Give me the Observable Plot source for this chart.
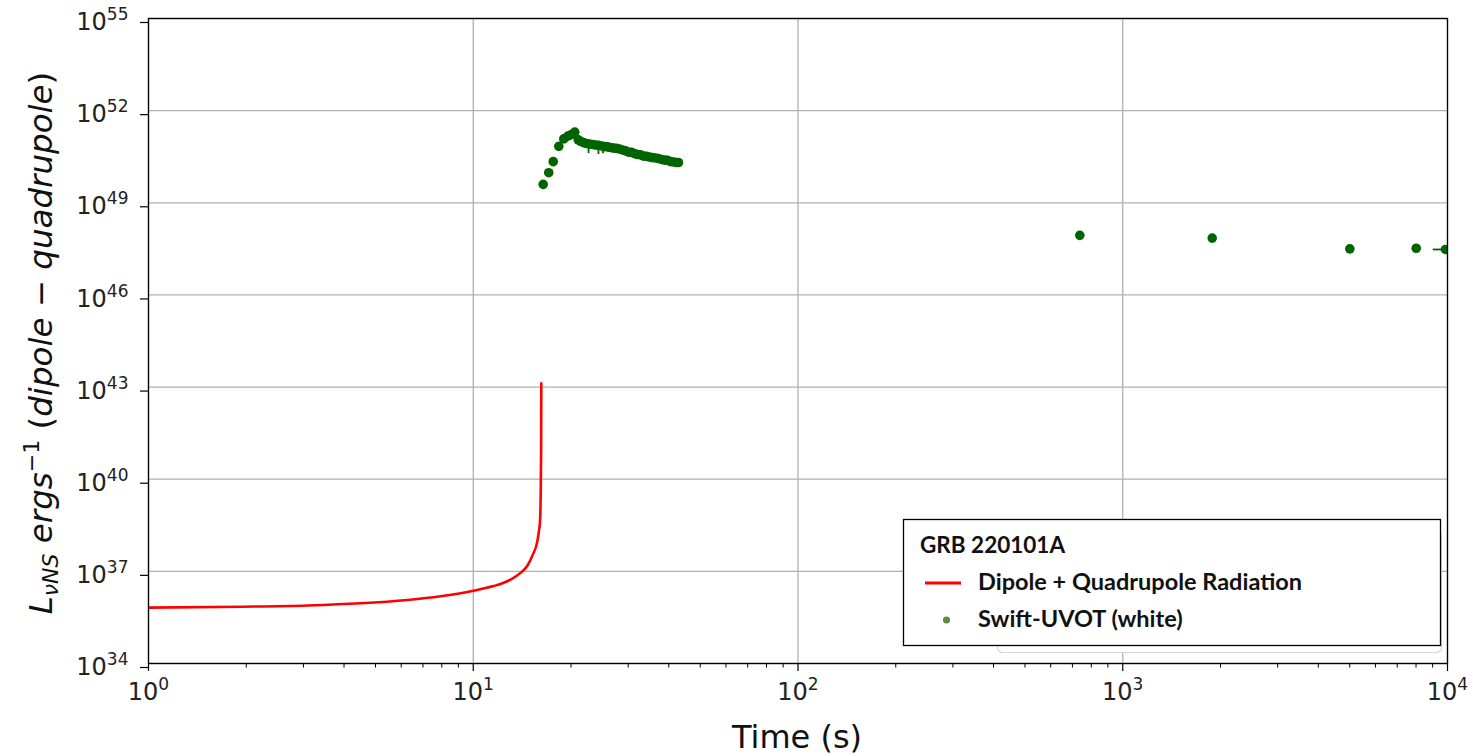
<!DOCTYPE html>
<html><head><meta charset="utf-8">
<script src="https://cdn.jsdelivr.net/npm/d3@7"></script>
<script src="https://cdn.jsdelivr.net/npm/@observablehq/plot@0.6"></script>
<style>
body{margin:0;background:#fff;}
#chart svg{display:block;}
</style></head><body><div id="chart"></div>
<script>
// Dipole + Quadrupole radiation model curve (time s, log10 L)
const curveTime = [1.00, 1.92, 3.09, 4.50, 6.28, 7.93, 9.14, 10.02, 11.54, 13.02, 13.98, 14.69, 15.22, 15.77, 15.94, 16.06, 16.13, 16.18, 16.20];
const curveLogL = [35.82, 35.85, 35.89, 35.96, 36.07, 36.19, 36.29, 36.37, 36.52, 36.73, 36.95, 37.19, 37.52, 38.00, 38.33, 38.66, 39.50, 41.00, 43.12];

// Swift-UVOT (white) data (time s, log10 L)
const uvotTime = [16.42, 17.08, 17.63, 18.34, 19.00, 19.55, 20.03, 20.54, 21.05,
  21.39, 21.85, 22.32, 22.80, 23.29, 23.79, 24.30, 24.83, 25.36, 25.91, 26.46, 27.03, 27.61, 28.21, 28.82,
  29.43, 30.07, 30.71, 31.37, 32.05, 32.73, 33.44, 34.16, 34.89, 35.64, 36.41, 37.19, 37.99, 38.81, 39.64,
  40.50, 41.37, 42.26, 42.86,
  737.5, 1886, 5003, 8010, 9858];
const uvotLogL = [49.60, 49.98, 50.34, 50.84, 51.08, 51.17, 51.22, 51.30, 51.05,
  51.00, 50.96, 50.93, 50.91, 50.90, 50.88, 50.87, 50.85, 50.83, 50.82, 50.80, 50.78, 50.77, 50.75, 50.72,
  50.69, 50.65, 50.64, 50.60, 50.57, 50.56, 50.52, 50.51, 50.49, 50.47, 50.46, 50.44, 50.41, 50.39, 50.38,
  50.34, 50.33, 50.31, 50.31,
  47.94, 47.85, 47.50, 47.52, 47.48];

// vertical error bars (time s, low / high log10 L)
const errTime = [22.65, 24.30, 25.10, 25.91];
const errLowLogL = [50.60, 50.57, 50.60, 50.66];
const errHighLogL = [51.02, 50.97, 50.96, 50.92];
// horizontal error bar on last point
const xErrLow = [9036];
const xErrHigh = [10750];
const xErrLogL = [47.48];

const xTicks = [1, 10, 100, 1000, 10000];
const yTickExps = [34, 37, 40, 43, 46, 49, 52, 55];

const yTicks = yTickExps.map(e => 10 ** e);
const minorX = [];
for (let d = 0; d < 4; d++) for (let k = 2; k <= 9; k++) minorX.push(k * 10 ** d);

const curve = curveTime.map((t, i) => ({t, L: 10 ** curveLogL[i]}));
const uvot = uvotTime.map((t, i) => ({t, L: 10 ** uvotLogL[i]}));
const errs = errTime.map((t, i) => ({t, lo: 10 ** errLowLogL[i], hi: 10 ** errHighLogL[i]}));
const xerrs = xErrLow.map((lo, i) => ({lo, hi: xErrHigh[i], L: 10 ** xErrLogL[i]}));

const fmt = d => "10^" + Math.round(Math.log10(d));
const green = "#006400";

const plot = Plot.plot({
  width: 1473, height: 756,
  marginLeft: 148, marginRight: 26, marginTop: 18, marginBottom: 93,
  style: {fontFamily: "DejaVu Sans", background: "white", color: "black", overflow: "visible"},
  x: {type: "log", domain: [1, 1e4], label: null},
  y: {type: "log", domain: [1e34, 1e55], label: null},
  marks: [
    Plot.gridX(xTicks, {stroke: "#b0b0b0", strokeOpacity: 1, strokeWidth: 1.3}),
    Plot.gridY(yTicks, {stroke: "#b0b0b0", strokeOpacity: 1, strokeWidth: 1.3}),
    Plot.line(curve, {x: "t", y: "L", stroke: "red", strokeWidth: 2.6, curve: "monotone-x", clip: true}),
    Plot.ruleX(errs, {x: "t", y1: "lo", y2: "hi", stroke: green, strokeWidth: 1.8, clip: true}),
    Plot.ruleY(xerrs, {y: "L", x1: "lo", x2: "hi", stroke: green, strokeWidth: 1.8, clip: true}),
    Plot.dot(uvot, {x: "t", y: "L", r: 4.8, fill: green, stroke: "none", clip: true}),
    Plot.frame({stroke: "black", strokeWidth: 1.3}),
    Plot.axisX(xTicks, {tickSize: 8, tickPadding: 11, fontSize: 24, tickFormat: fmt, label: null, strokeWidth: 1.2, fill: "#222"}),
    Plot.axisX(minorX, {tickSize: 4.5, text: null, label: null, strokeWidth: 1}),
    Plot.axisY(yTicks, {tickSize: 8, tickPadding: 12, fontSize: 24, tickFormat: fmt, label: null, dy: 4, strokeWidth: 1.2, fill: "#222"})
  ]
});

document.getElementById("chart").appendChild(plot);
const svg = d3.select(plot);

// superscripts in tick labels
svg.selectAll("text").each(function() {
  const m = /^10\^(-?\d+)$/.exec(this.textContent.trim());
  if (!m) return;
  const t = d3.select(this);
  t.text(null);
  t.append("tspan").text("10");
  t.append("tspan").attr("font-size", 17).attr("dy", -10).text(m[1]);
});

// y-axis label
const yl = svg.append("text")
  .attr("transform", "translate(52,343) rotate(-90)")
  .attr("text-anchor", "middle")
  .attr("font-family", "DejaVu Sans")
  .attr("font-size", 32.5)
  .attr("fill", "#111");
yl.append("tspan").attr("font-style", "italic").text("L");
yl.append("tspan").attr("font-style", "italic").attr("font-size", 22).attr("dy", 6).text("νNS");
yl.append("tspan").attr("dy", -6).text(" ");
yl.append("tspan").attr("font-style", "italic").text("ergs");
yl.append("tspan").attr("font-size", 22).attr("dy", -13).text("−1");
yl.append("tspan").attr("dy", 13).text(" (");
yl.append("tspan").attr("font-style", "italic").text("dipole");
yl.append("tspan").text(" − ");
yl.append("tspan").attr("font-style", "italic").text("quadrupole");
yl.append("tspan").text(")");

// x-axis label
svg.append("text")
  .attr("x", 797).attr("y", 748)
  .attr("text-anchor", "middle")
  .attr("font-family", "DejaVu Sans")
  .attr("font-size", 32)
  .attr("fill", "#111")
  .text("Time (s)");

// legend
const lg = svg.append("g").attr("font-family", "Lato").attr("font-weight", "bold")
  .attr("fill", "#111").attr("text-anchor", "start");
lg.append("rect").attr("x", 997.5).attr("y", 530.5).attr("width", 444).attr("height", 122).attr("rx", 5)
  .attr("fill", "white").attr("stroke", "#d6d6d6").attr("stroke-width", 1.2);
lg.append("rect").attr("x", 903.5).attr("y", 519.5).attr("width", 537).attr("height", 126)
  .attr("fill", "white").attr("stroke", "black").attr("stroke-width", 1.3);
lg.append("text").attr("x", 920).attr("y", 553).attr("font-size", 22.5).text("GRB 220101A");
lg.append("line").attr("x1", 925).attr("x2", 961).attr("y1", 583).attr("y2", 583).attr("stroke", "red").attr("stroke-width", 3);
lg.append("text").attr("x", 978).attr("y", 590).attr("font-size", 23.5).text("Dipole + Quadrupole Radiation");
lg.append("circle").attr("cx", 946.5).attr("cy", 620).attr("r", 3.6).attr("fill", "#5a8f3f");
lg.append("text").attr("x", 978).attr("y", 627).attr("font-size", 23.5).text("Swift-UVOT (white)");
</script>
</body></html>
